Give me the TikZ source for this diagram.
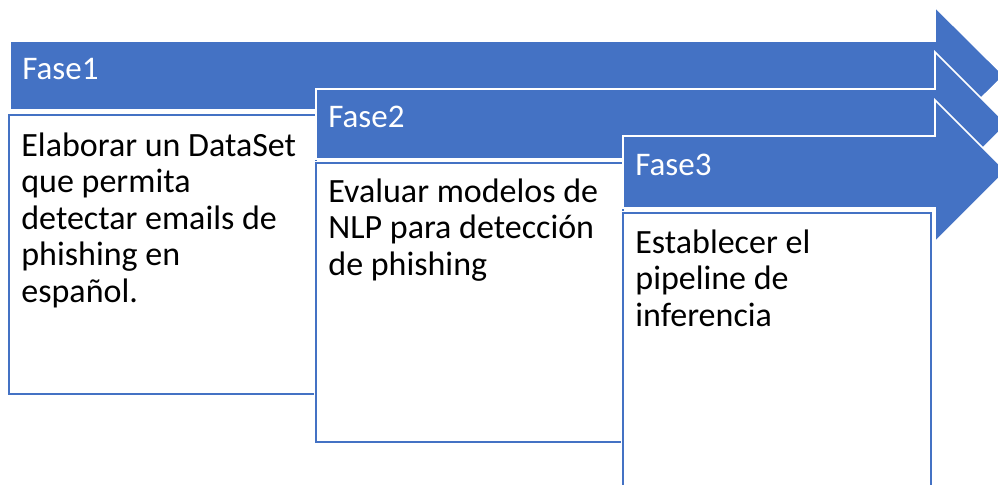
\documentclass[tikz,border=0pt]{standalone}
\usepackage{fontspec}
\setmainfont{Carlito}
\usepackage{tikz}
\usetikzlibrary{positioning}
\usepackage{xcolor}
\definecolor{faseblue}{RGB}{68,114,196}

\tikzset{
  fasearrow/.style={fill=faseblue, draw=white, line width=0.8pt, line join=miter},
  fasebox/.style={fill=white, draw=faseblue, line width=1.1pt,
    preaction={draw=white, line width=2.4pt}},
  fasetitle/.style={anchor=base west, inner sep=0pt, text=white,
    font=\fontsize{16.5}{19}\selectfont},
  % base of a multi-line node is its last line
  fasetext/.style={anchor=base west, inner sep=0pt, align=left,
    font=\fontsize{17}{18.25}\selectfont},
}

\begin{document}
\begin{tikzpicture}[x=0.5pt, y=-0.5pt]

\useasboundingbox (0,0) rectangle (998,484);
\clip (0,0) rectangle (998,484);

%F: first phase
\filldraw[fasearrow] (10,41) -- (935,41) -- (935,7) -- (1004,75.5)
    -- (935,144) -- (935,110) -- (10,110) -- cycle;
\node[fasetitle] (f1) at (22,79) {Fase1};

\filldraw[fasebox] (9,115) rectangle (316,394);
\node[fasetext] (d1) at (21,302) {Elaborar un DataSet\\que permita\\detectar emails de\\phishing en\\español.};

%F: second phase
\filldraw[fasearrow] (316,89) -- (935,89) -- (935,52) -- (1007,124)
    -- (935,196) -- (935,159) -- (316,159) -- cycle;
\node[fasetitle] (f2) at (328,127) {Fase2};

\filldraw[fasebox] (316,163) rectangle (623,442);
\node[fasetext] (d2) at (328,275) {Evaluar modelos de\\NLP para detección\\de phishing};

%F: third phase
\filldraw[fasearrow] (623,136) -- (935,136) -- (935,100) -- (1006,171)
    -- (935,242) -- (935,208) -- (623,208) -- cycle;
\node[fasetitle] (f3) at (635,175) {Fase3};

\filldraw[fasebox] (623,213) rectangle (931,500);
\node[fasetext] (d3) at (635,326) {Establecer el\\pipeline de\\inferencia};

\end{tikzpicture}
\end{document}
